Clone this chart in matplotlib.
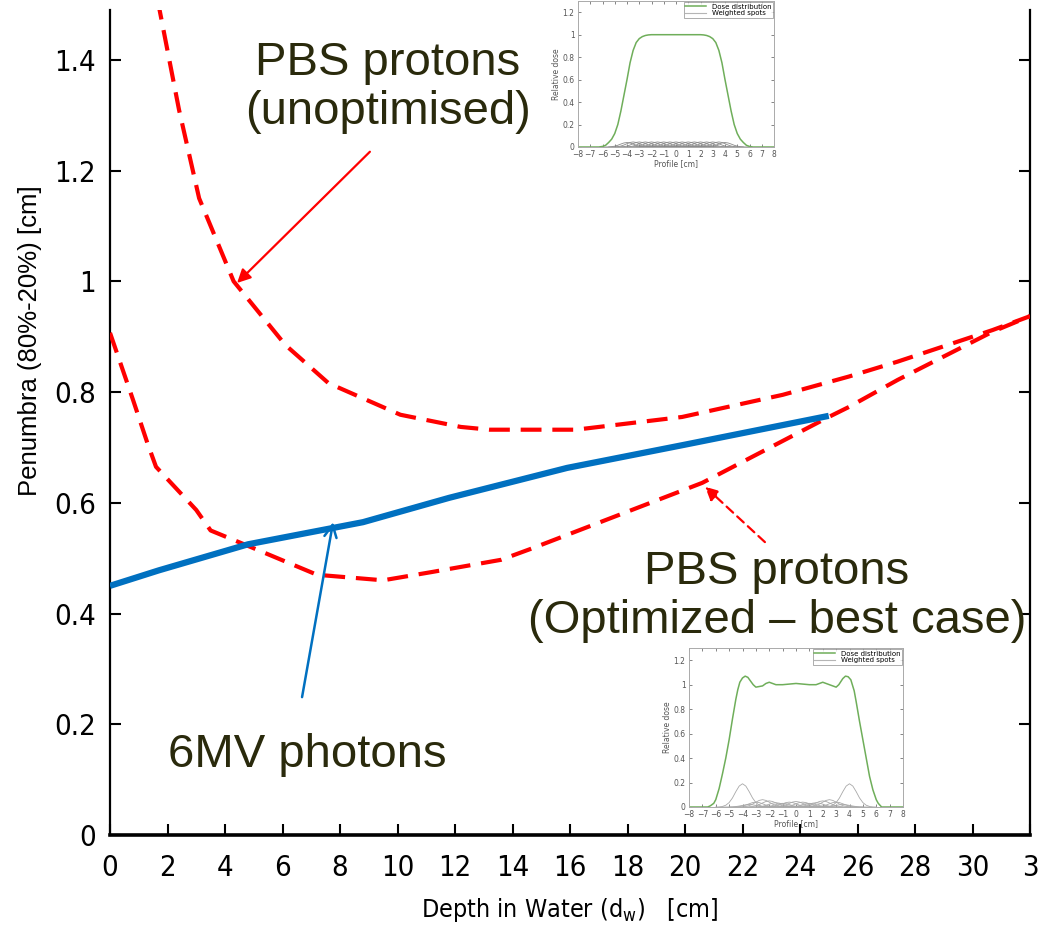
import matplotlib
matplotlib.use("Agg")
import matplotlib.pyplot as plt
from matplotlib import font_manager as fm

# ---------------- data ----------------
photon_depth = [0, 1.7, 4.8, 8.8, 11.8, 15.9, 20.0, 25.0]
photon_pen = [0.45, 0.478, 0.525, 0.565, 0.609, 0.663, 0.705, 0.757]

unopt_depth = [1.5, 2.4, 3.1, 3.7, 4.3, 6.1, 7.6, 10.1, 12.2, 13.2, 16.2, 19.9, 23.4, 25.7, 27.4, 30.7, 32.0]
unopt_pen = [1.55, 1.31, 1.15, 1.075, 1.0, 0.885, 0.816, 0.759, 0.737, 0.732, 0.732, 0.755, 0.795, 0.828, 0.855, 0.912, 0.937]

opt_depth = [0, 0.8, 1.3, 1.6, 3.0, 3.5, 4.9, 7.2, 9.5, 11.2, 13.6, 14.7, 20.6, 25.0, 25.7, 27.4, 30.7, 32.0]
opt_pen = [0.907, 0.786, 0.708, 0.665, 0.587, 0.55, 0.52, 0.47, 0.46, 0.475, 0.497, 0.518, 0.636, 0.755, 0.773, 0.822, 0.909, 0.937]

x_ticks = [0, 2, 4, 6, 8, 10, 12, 14, 16, 18, 20, 22, 24, 26, 28, 30, 32]
x_tick_labels = ["0", "2", "4", "6", "8", "10", "12", "14", "16", "18", "20", "22", "24", "26", "28", "30", "3"]
y_ticks = [0, 0.2, 0.4, 0.6, 0.8, 1.0, 1.2, 1.4]
y_tick_labels = ["0", "0.2", "0.4", "0.6", "0.8", "1", "1.2", "1.4"]

# inset: unoptimised profile
prof1_x = [-8, -6.3, -6.0, -5.75, -5.5, -5.25, -5.0, -4.75, -4.5, -4.25, -4.0, -3.75, -3.5, -3.25, -3.0,
           -2.75, -2.5, -2.25, -2.0, 0, 2.0, 2.25, 2.5, 2.75, 3.0, 3.25, 3.5, 3.75, 4.0, 4.25, 4.5,
           4.75, 5.0, 5.25, 5.5, 5.75, 6.0, 6.3, 8]
prof1_y = [0, 0, 0.005, 0.015, 0.04, 0.07, 0.12, 0.2, 0.32, 0.46, 0.6, 0.75, 0.86, 0.93, 0.965,
           0.983, 0.993, 0.998, 1.0, 1.0, 1.0, 0.998, 0.993, 0.983, 0.965, 0.93, 0.86, 0.75, 0.6, 0.46, 0.32,
           0.2, 0.12, 0.07, 0.04, 0.015, 0.005, 0, 0]
spots1_center = [-4, -3.5, -3, -2.5, -2, -1.5, -1, -0.5, 0, 0.5, 1, 1.5, 2, 2.5, 3, 3.5, 4]
spots1_peak = [0.04, 0.045, 0.045, 0.045, 0.045, 0.045, 0.045, 0.045, 0.045, 0.045, 0.045, 0.045, 0.045, 0.045, 0.045, 0.045, 0.04]

# inset: optimised profile
prof2_x = [-8, -6.6, -6.4, -6.15, -6.0, -5.75, -5.5, -5.25, -5.0, -4.75, -4.5, -4.35, -4.2, -4.0, -3.8, -3.6,
           -3.4, -3.2, -3.0, -2.75, -2.5, -2.25, -2.0, -1.5, -1.0, 0, 1.0, 1.5, 2.0, 2.25, 2.5, 2.75, 3.0,
           3.2, 3.5, 3.7, 3.9, 4.1, 4.35, 4.5, 4.75, 5.0, 5.25, 5.5, 5.75, 6.0, 6.15, 6.4, 8]
prof2_y = [0, 0, 0.01, 0.03, 0.06, 0.15, 0.27, 0.4, 0.55, 0.72, 0.88, 0.96, 1.02, 1.055, 1.07, 1.06,
           1.03, 1.0, 0.98, 0.985, 0.99, 1.01, 1.02, 1.0, 1.0, 1.01, 1.0, 1.0, 1.02, 1.01, 1.0, 0.99, 0.98,
           1.0, 1.05, 1.07, 1.065, 1.04, 0.95, 0.86, 0.7, 0.55, 0.4, 0.25, 0.14, 0.06, 0.03, 0, 0]
spots2_center = [-4, -3.5, -3, -2.5, -2, -1.5, -1, -0.5, 0, 0.5, 1, 1.5, 2, 2.5, 3, 3.5, 4]
spots2_peak = [0.19, 0.02, 0.04, 0.06, 0.05, 0.035, 0.03, 0.04, 0.045, 0.04, 0.03, 0.035, 0.05, 0.06, 0.04, 0.02, 0.19]

# shape of a single spot (relative)
spot_offset = [-2.0, -1.75, -1.5, -1.25, -1.0, -0.75, -0.5, -0.25, 0, 0.25, 0.5, 0.75, 1.0, 1.25, 1.5, 1.75, 2.0]
spot_shape = [0.0, 0.006, 0.024, 0.076, 0.19, 0.39, 0.66, 0.90, 1.0, 0.90, 0.66, 0.39, 0.19, 0.076, 0.024, 0.006, 0.0]

# ---------------- style ----------------
SANS = ["Liberation Sans", "DejaVu Sans"]
TXT = "#2a2a0c"
RED = "#ff0000"
BLUE = "#0070c0"

_names = {f.name for f in fm.fontManager.ttflist}
if "Liberation Sans Narrow" in _names:
    NARROW = dict(family="Liberation Sans Narrow")
elif any(f.name == "DejaVu Sans" and ("Condensed" in f.fname) for f in fm.fontManager.ttflist):
    NARROW = dict(family="DejaVu Sans", stretch="condensed")
else:
    NARROW = dict(family="Liberation Sans")

fig = plt.figure(figsize=(10.5, 9.4), dpi=100)
ax = fig.add_axes([110 / 1050, 1 - 835 / 940, 920 / 1050, 825 / 940])

ax.plot(unopt_depth, unopt_pen, color=RED, lw=3, dashes=(5, 2.6), zorder=3)
ax.plot(opt_depth, opt_pen, color=RED, lw=3, dashes=(5, 2.6), zorder=3)
ax.plot(photon_depth, photon_pen, color=BLUE, lw=4.5, solid_capstyle="butt", zorder=4)

ax.set_xlim(0, 32)
ax.set_ylim(0, 1.49)
ax.spines["top"].set_visible(False)
ax.spines["left"].set_linewidth(1.6)
ax.spines["right"].set_linewidth(1.6)
ax.spines["bottom"].set_linewidth(2.6)
ax.set_xticks(x_ticks)
ax.set_xticklabels(x_tick_labels, fontsize=21, **NARROW)
ax.set_yticks(y_ticks)
ax.set_yticklabels(y_tick_labels, fontsize=21, **NARROW)
ax.tick_params(axis="both", direction="in", length=8, width=1.5)
ax.tick_params(axis="y", right=True, pad=10)
ax.tick_params(axis="x", pad=14)

ax.set_ylabel("Penumbra (80%-20%) [cm]", family=SANS, fontsize=18.5)
ax.yaxis.set_label_coords(-0.074, 0.599)
ax.set_xlabel("Depth in Water (d$_\\mathregular{w}$)   [cm]", fontsize=18, **NARROW)
ax.xaxis.set_label_coords(0.5, -0.074)

# annotations
ax.text(9.67, 1.35, "PBS protons\n(unoptimised)", ha="center", va="center",
        fontsize=34, color=TXT, family=SANS, linespacing=1.15)
ax.text(23.2, 0.43, "PBS protons\n(Optimized \u2013 best case)", ha="center", va="center",
        fontsize=34, color=TXT, family=SANS, linespacing=1.15)
ax.text(6.85, 0.145, "6MV photons", ha="center", va="center",
        fontsize=34, color=TXT, family=SANS)

ax.annotate("", xy=(4.42, 0.997), xytext=(9.04, 1.234),
            arrowprops=dict(arrowstyle="-|>", color=RED, lw=1.6, mutation_scale=20, shrinkA=0, shrinkB=0))
ax.annotate("", xy=(20.7, 0.629), xytext=(22.78, 0.529),
            arrowprops=dict(arrowstyle="-|>", color=RED, lw=1.6, ls=(0, (4, 2.5)), mutation_scale=20, shrinkA=0, shrinkB=0))
ax.annotate("", xy=(7.76, 0.565), xytext=(6.68, 0.249),
            arrowprops=dict(arrowstyle="->", color=BLUE, lw=1.8, mutation_scale=22, shrinkA=0, shrinkB=0))


def draw_inset(rect, px, py, centers, peaks, spot_col):
    ia = fig.add_axes(rect)
    ia.set_facecolor("white")
    for c, p in zip(centers, peaks):
        ia.plot([c + o for o in spot_offset], [p * s for s in spot_shape], color=spot_col, lw=0.6)
    ia.plot(px, py, color="#6fae5a", lw=1.1, label="Dose distribution")
    ia.plot([], [], color="#b5b5b5", lw=0.8, label="Weighted spots")
    ia.set_xlim(-8, 8)
    ia.set_ylim(0, 1.3)
    ia.set_xticks(range(-8, 9))
    ia.set_xticklabels([str(v).replace("-", "\u2212") for v in range(-8, 9)])
    ia.set_yticks([0, 0.2, 0.4, 0.6, 0.8, 1.0, 1.2])
    ia.set_yticklabels(["0", "0.2", "0.4", "0.6", "0.8", "1", "1.2"])
    ia.tick_params(labelsize=5.5, colors="#555555", length=2, width=0.5, direction="in",
                   top=True, right=True)
    ia.tick_params(axis="x", pad=2.5)
    ia.tick_params(axis="y", pad=2.5)
    for s in ia.spines.values():
        s.set_color("#aaaaaa")
        s.set_linewidth(0.7)
    ia.set_xlabel("Profile [cm]", fontsize=5.5, color="#555555", labelpad=0)
    ia.set_ylabel("Relative dose", fontsize=5.5, color="#555555", labelpad=1)
    leg = ia.legend(loc="upper right", fontsize=5, frameon=True, fancybox=False, borderpad=0.2,
                    handlelength=3, labelspacing=0.1, borderaxespad=0.2)
    leg.get_frame().set_edgecolor("#888888")
    leg.get_frame().set_linewidth(0.6)
    return ia


draw_inset([578 / 1050, 1 - 147 / 940, 196 / 1050, 146 / 940], prof1_x, prof1_y,
           spots1_center, spots1_peak, "#8a8a8a")
draw_inset([689 / 1050, 1 - 807 / 940, 214 / 1050, 159 / 940], prof2_x, prof2_y,
           spots2_center, spots2_peak, "#a8a8a8")

fig.savefig("out.png", dpi=100)
